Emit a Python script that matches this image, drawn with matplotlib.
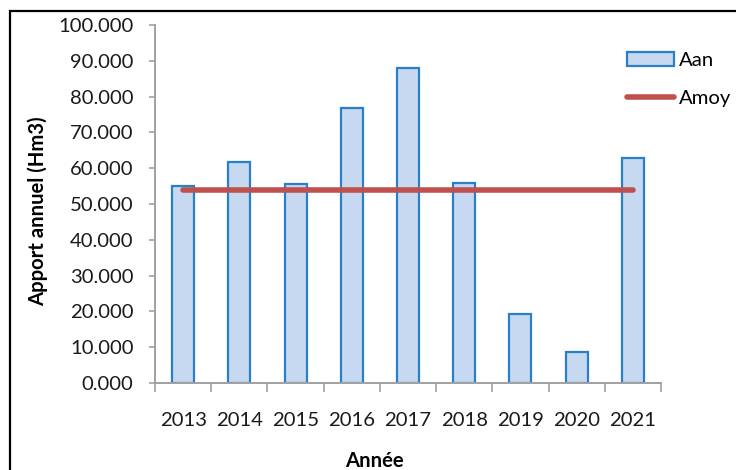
import matplotlib
matplotlib.use("Agg")
import matplotlib.pyplot as plt
from matplotlib.patches import Rectangle
import numpy as np

years = ["2013", "2014", "2015", "2016", "2017", "2018", "2019", "2020", "2021"]
aan = [55.0, 61.8, 55.5, 76.8, 88.0, 55.9, 19.3, 8.7, 62.8]
amoy = 53.8
yticks = [0, 10, 20, 30, 40, 50, 60, 70, 80, 90, 100]

plt.rcParams["font.family"] = ["Lato", "DejaVu Sans"]
FS = 14.6

W, H = 736, 470
fig = plt.figure(figsize=(W / 100, H / 100), dpi=100)
ax = fig.add_axes([155 / W, 1 - 383 / H, (661 - 155) / W, (383 - 25) / H])

x = np.arange(len(years))
bars = ax.bar(x, aan, width=0.39, color="#C6D9F1", edgecolor="#2A7FC9", linewidth=1.6,
              label="Aan", zorder=2)
line, = ax.plot([x[0], x[-1]], [amoy, amoy], color="#C0504D", linewidth=4.0,
                solid_capstyle="round", label="Amoy", zorder=3)

ax.set_xlim(-0.5, len(years) - 0.5)
ax.set_ylim(0, 100)
ax.set_yticks(yticks)
ax.set_yticklabels([f"{v:.3f}" for v in yticks], fontsize=FS, color="#1a1a1a")
ax.set_xticks(x)
ax.set_xticklabels(years, fontsize=FS, color="#1a1a1a")
ax.tick_params(axis="x", length=0, pad=21)
ax.set_xticks(np.arange(len(years) + 1) - 0.5, minor=True)
ax.tick_params(axis="x", which="minor", length=6.5, width=1.2, color="#A0A0A0", direction="out")
ax.tick_params(axis="y", length=4.5, width=1.2, color="#A0A0A0", direction="out", pad=11)

for s in ("top", "right"):
    ax.spines[s].set_visible(False)
for s in ("left", "bottom"):
    ax.spines[s].set_color("#A0A0A0")
    ax.spines[s].set_linewidth(1.4)

ax.set_ylabel("Apport annuel (Hm3)", fontsize=FS, fontweight="bold")
ax.yaxis.set_label_coords((48 - 155) / 506, (383 - 211) / 358)
ax.set_xlabel("Année", fontsize=FS, fontweight="bold")
ax.xaxis.set_label_coords((374 - 155) / 506, (383 - 451) / 358)

ax.legend([bars, line], ["Aan", "Amoy"], loc="upper left",
          bbox_to_anchor=((627 - 155) / 506, (383 - 52) / 358), frameon=False,
          fontsize=FS, handlelength=2.3, handletextpad=0.25, labelspacing=1.0,
          borderaxespad=0, borderpad=0)

# outer border of the chart area
fig.patches.append(Rectangle((9.5 / W, -0.1), 1.2, 1.1 - 11.5 / H,
                             transform=fig.transFigure, fill=False,
                             edgecolor="black", linewidth=1.6))

fig.savefig("out.png", dpi=100)
